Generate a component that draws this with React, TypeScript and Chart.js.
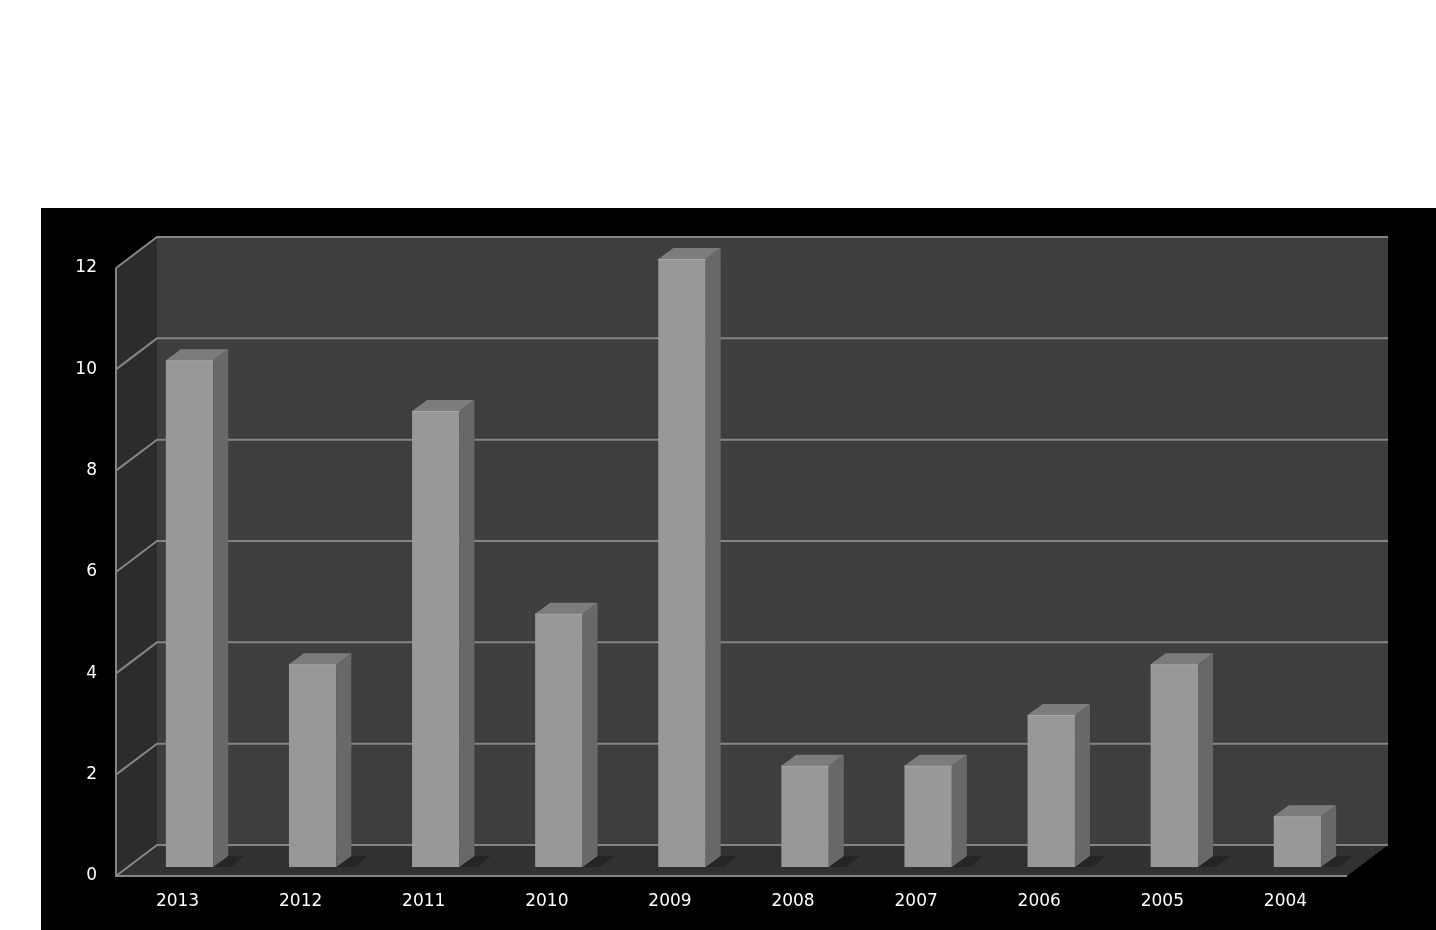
import React, { useEffect, useRef } from "react";
import { Chart, registerables } from "chart.js";

Chart.register(...registerables);

const years = ["2013", "2012", "2011", "2010", "2009", "2008", "2007", "2006", "2005", "2004"];
const counts = [10, 4, 9, 5, 12, 2, 2, 3, 4, 1];
const yTicks = [0, 2, 4, 6, 8, 10, 12];

const DX = 41; // depth offset of back wall
const DY = -31;
const BAR_SHIFT_X = 12;
const BAR_SHIFT_Y = -9;
const BAR_DX = 15;
const BAR_DY = -11;
const GRID = "#858585";

const walls3d = {
  id: "walls3d",
  beforeDatasetsDraw(chart: any) {
    const { ctx, chartArea } = chart;
    const ys = chart.scales.y;
    const L = chartArea.left, R = chartArea.right;
    const top = ys.getPixelForValue(12), bot = ys.getPixelForValue(0);
    ctx.save();
    // back wall
    ctx.fillStyle = "#3e3e3e";
    ctx.fillRect(L + DX, top + DY, R - L, bot - top);
    // left wall
    ctx.fillStyle = "#2c2c2c";
    ctx.beginPath();
    ctx.moveTo(L, top);
    ctx.lineTo(L + DX, top + DY);
    ctx.lineTo(L + DX, bot + DY);
    ctx.lineTo(L, bot);
    ctx.closePath();
    ctx.fill();
    // floor
    ctx.fillStyle = "#313131";
    ctx.beginPath();
    ctx.moveTo(L, bot);
    ctx.lineTo(L + DX, bot + DY);
    ctx.lineTo(R + DX, bot + DY);
    ctx.lineTo(R, bot);
    ctx.closePath();
    ctx.fill();
    // grid lines
    ctx.strokeStyle = GRID;
    ctx.lineWidth = 2;
    for (const v of yTicks) {
      const y = ys.getPixelForValue(v);
      ctx.beginPath();
      ctx.moveTo(L, y);
      ctx.lineTo(L + DX, y + DY);
      ctx.lineTo(R + DX, y + DY);
      ctx.stroke();
    }
    // front edges
    ctx.beginPath();
    ctx.moveTo(L, top);
    ctx.lineTo(L, bot);
    ctx.lineTo(R, bot);
    ctx.stroke();
    // bar shadows on the floor
    const meta = chart.getDatasetMeta(0);
    ctx.fillStyle = "#252525";
    for (const el of meta.data) {
      const { x, base, width } = el.getProps(["x", "base", "width"], true);
      const right = x + width / 2 + BAR_SHIFT_X;
      const b = base + BAR_SHIFT_Y;
      ctx.beginPath();
      ctx.moveTo(right, b);
      ctx.lineTo(right + BAR_DX, b + BAR_DY);
      ctx.lineTo(right + BAR_DX + 16, b + BAR_DY);
      ctx.lineTo(right + 18, b);
      ctx.closePath();
      ctx.fill();
    }
    ctx.restore();
    ctx.save();
    ctx.translate(BAR_SHIFT_X, BAR_SHIFT_Y);
  },
  afterDatasetsDraw(chart: any) {
    const { ctx } = chart;
    const meta = chart.getDatasetMeta(0);
    for (const el of meta.data) {
      const { x, y, base, width } = el.getProps(["x", "y", "base", "width"], true);
      const left = x - width / 2, right = x + width / 2;
      // side face
      ctx.fillStyle = "#686868";
      ctx.beginPath();
      ctx.moveTo(right, y);
      ctx.lineTo(right + BAR_DX, y + BAR_DY);
      ctx.lineTo(right + BAR_DX, base + BAR_DY);
      ctx.lineTo(right, base);
      ctx.closePath();
      ctx.fill();
      // top face
      ctx.fillStyle = "#7c7c7c";
      ctx.beginPath();
      ctx.moveTo(left, y);
      ctx.lineTo(left + BAR_DX, y + BAR_DY);
      ctx.lineTo(right + BAR_DX, y + BAR_DY);
      ctx.lineTo(right, y);
      ctx.closePath();
      ctx.fill();
      // highlight edge
      ctx.strokeStyle = "#a8a8a8";
      ctx.lineWidth = 1;
      ctx.beginPath();
      ctx.moveTo(left, y + 0.5);
      ctx.lineTo(right, y + 0.5);
      ctx.stroke();
    }
    ctx.restore();
  },
};

export default function App() {
  const ref = useRef<HTMLCanvasElement>(null);
  useEffect(() => {
    if (!ref.current) return;
    const font = { family: "'DejaVu Sans', sans-serif", size: 17 };
    const chart = new Chart(ref.current, {
      type: "bar",
      data: {
        labels: years,
        datasets: [
          {
            data: counts,
            backgroundColor: "#989898",
            borderWidth: 0,
            categoryPercentage: 1,
            barPercentage: 0.385,
            clip: false as any,
          },
        ],
      },
      options: {
        responsive: false,
        animation: false,
        devicePixelRatio: 1,
        layout: { padding: { top: 60, right: 89, left: 0, bottom: 0 } },
        plugins: { legend: { display: false }, tooltip: { enabled: false } },
        scales: {
          y: {
            min: 0,
            max: 12,
            ticks: { stepSize: 2, color: "#ffffff", font, padding: 19 },
            grid: { display: false, drawTicks: false },
            border: { display: false },
            afterFit: (s: any) => {
              s.width = 75;
            },
          },
          x: {
            ticks: { color: "#ffffff", font, padding: 15, maxRotation: 0 },
            grid: { display: false, drawTicks: false },
            border: { display: false },
            afterFit: (s: any) => {
              s.height = 54;
            },
          },
        },
      },
      plugins: [walls3d],
    });
    return () => chart.destroy();
  }, []);
  return (
    <div
      style={{
        position: "fixed",
        left: 0,
        top: 0,
        width: 1436,
        height: 930,
        background: "#ffffff",
        overflow: "hidden",
      }}
    >
      <canvas
        ref={ref}
        width={1395}
        height={722}
        style={{ position: "absolute", left: 41, top: 208, width: 1395, height: 722, background: "#000000" }}
      />
    </div>
  );
}
